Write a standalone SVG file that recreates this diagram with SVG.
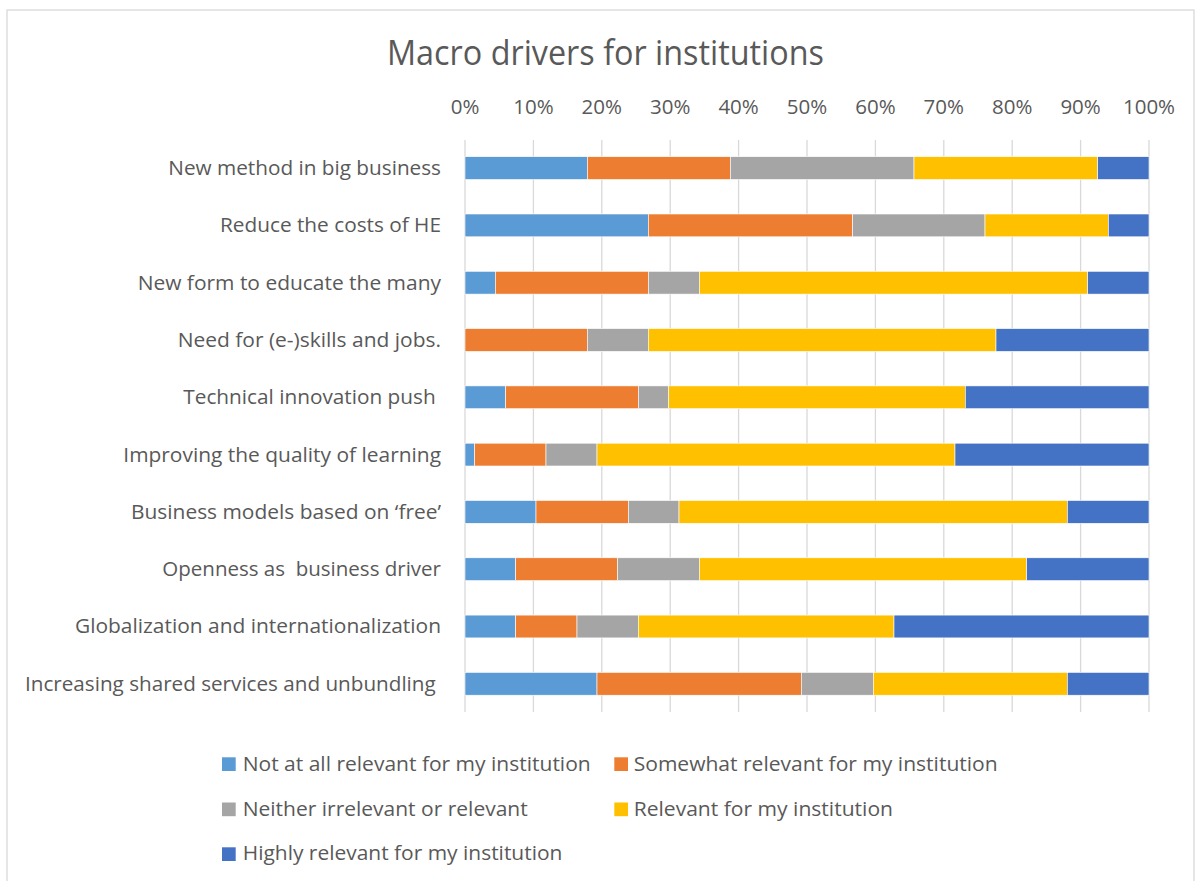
<svg xmlns="http://www.w3.org/2000/svg" width="1198" height="881" viewBox="0 0 1198 881">
<style>
text{font-family:"Open Sans","Liberation Sans",sans-serif;fill:#595959}
.lbl{font-size:20.5px;text-anchor:end}
.tick{font-size:20.5px;text-anchor:middle}
.leg{font-size:20.5px}
.grid line{stroke:#d9d9d9;stroke-width:1.3}
.c1{fill:#5b9bd5}.c2{fill:#ed7d31}.c3{fill:#a5a5a5}.c4{fill:#ffc000}.c5{fill:#4472c4}
.bars rect{stroke:#ffffff;stroke-width:0.6}
</style>
<rect x="0" y="0" width="1198" height="881" fill="#ffffff"/>
<rect x="7" y="10" width="1187" height="890" fill="#ffffff" stroke="#d9d9d9" stroke-width="1.3"/>
<text id="title" x="387" y="64.5" font-size="34" textLength="437" lengthAdjust="spacingAndGlyphs">Macro drivers for institutions</text>
<g id="axis">
<text class="tick" x="465" y="114.3">0%</text>
<text class="tick" x="533.4" y="114.3">10%</text>
<text class="tick" x="601.8" y="114.3">20%</text>
<text class="tick" x="670.2" y="114.3">30%</text>
<text class="tick" x="738.6" y="114.3">40%</text>
<text class="tick" x="807" y="114.3">50%</text>
<text class="tick" x="875.4" y="114.3">60%</text>
<text class="tick" x="943.8" y="114.3">70%</text>
<text class="tick" x="1012.2" y="114.3">80%</text>
<text class="tick" x="1080.6" y="114.3">90%</text>
<text class="tick" x="1149" y="114.3">100%</text>
</g>
<g class="grid" id="gridlines">
<line x1="465" y1="140" x2="465" y2="712"/>
<line x1="533.4" y1="140" x2="533.4" y2="712"/>
<line x1="601.8" y1="140" x2="601.8" y2="712"/>
<line x1="670.2" y1="140" x2="670.2" y2="712"/>
<line x1="738.6" y1="140" x2="738.6" y2="712"/>
<line x1="807" y1="140" x2="807" y2="712"/>
<line x1="875.4" y1="140" x2="875.4" y2="712"/>
<line x1="943.8" y1="140" x2="943.8" y2="712"/>
<line x1="1012.2" y1="140" x2="1012.2" y2="712"/>
<line x1="1080.6" y1="140" x2="1080.6" y2="712"/>
<line x1="1149" y1="140" x2="1149" y2="712"/>
</g>
<g id="labels">
<text class="lbl" x="441" y="175" textLength="272.7" lengthAdjust="spacingAndGlyphs">New method in big business</text>
<text class="lbl" x="441" y="232.3" textLength="221" lengthAdjust="spacingAndGlyphs">Reduce the costs of HE</text>
<text class="lbl" x="441" y="289.6" textLength="303.3" lengthAdjust="spacingAndGlyphs">New form to educate the many</text>
<text class="lbl" x="441" y="346.9" textLength="263.3" lengthAdjust="spacingAndGlyphs">Need for (e-)skills and jobs.</text>
<text class="lbl" x="435.7" y="404.2" textLength="252.4" lengthAdjust="spacingAndGlyphs">Technical innovation push</text>
<text class="lbl" x="441" y="461.5" textLength="317.7" lengthAdjust="spacingAndGlyphs">Improving the quality of learning</text>
<text class="lbl" x="441" y="518.8" textLength="310" lengthAdjust="spacingAndGlyphs">Business models based on ‘free’</text>
<text class="lbl" x="441" y="576.1" textLength="278.7" lengthAdjust="spacingAndGlyphs" xml:space="preserve">Openness as  business driver</text>
<text class="lbl" x="441" y="633.4" textLength="366" lengthAdjust="spacingAndGlyphs">Globalization and internationalization</text>
<text class="lbl" x="435.7" y="690.7" textLength="410.7" lengthAdjust="spacingAndGlyphs">Increasing shared services and unbundling</text>
</g>
<g class="bars" id="bars">
<g id="row1">
<rect class="c1" x="465" y="156.7" width="122.3" height="22.8"/>
<rect class="c2" x="587.3" y="156.7" width="143" height="22.8"/>
<rect class="c3" x="730.3" y="156.7" width="183.7" height="22.8"/>
<rect class="c4" x="914" y="156.7" width="183.7" height="22.8"/>
<rect class="c5" x="1097.7" y="156.7" width="51.3" height="22.8"/>
</g>
<g id="row2">
<rect class="c1" x="465" y="214" width="183.3" height="22.8"/>
<rect class="c2" x="648.3" y="214" width="204.4" height="22.8"/>
<rect class="c3" x="852.7" y="214" width="132.3" height="22.8"/>
<rect class="c4" x="985" y="214" width="123.3" height="22.8"/>
<rect class="c5" x="1108.3" y="214" width="40.7" height="22.8"/>
</g>
<g id="row3">
<rect class="c1" x="465" y="271.3" width="30.3" height="22.8"/>
<rect class="c2" x="495.3" y="271.3" width="153" height="22.8"/>
<rect class="c3" x="648.3" y="271.3" width="51" height="22.8"/>
<rect class="c4" x="699.3" y="271.3" width="388.4" height="22.8"/>
<rect class="c5" x="1087.7" y="271.3" width="61.3" height="22.8"/>
</g>
<g id="row4">
<rect class="c2" x="465" y="328.6" width="122.3" height="22.8"/>
<rect class="c3" x="587.3" y="328.6" width="61" height="22.8"/>
<rect class="c4" x="648.3" y="328.6" width="347.7" height="22.8"/>
<rect class="c5" x="996" y="328.6" width="153" height="22.8"/>
</g>
<g id="row5">
<rect class="c1" x="465" y="385.9" width="40.7" height="22.8"/>
<rect class="c2" x="505.7" y="385.9" width="132.6" height="22.8"/>
<rect class="c3" x="638.3" y="385.9" width="30.4" height="22.8"/>
<rect class="c4" x="668.7" y="385.9" width="296.6" height="22.8"/>
<rect class="c5" x="965.3" y="385.9" width="183.7" height="22.8"/>
</g>
<g id="row6">
<rect class="c1" x="465" y="443.2" width="9.7" height="22.8"/>
<rect class="c2" x="474.7" y="443.2" width="71.3" height="22.8"/>
<rect class="c3" x="546" y="443.2" width="51" height="22.8"/>
<rect class="c4" x="597" y="443.2" width="358" height="22.8"/>
<rect class="c5" x="955" y="443.2" width="194" height="22.8"/>
</g>
<g id="row7">
<rect class="c1" x="465" y="500.5" width="71" height="22.8"/>
<rect class="c2" x="536" y="500.5" width="92.3" height="22.8"/>
<rect class="c3" x="628.3" y="500.5" width="50.7" height="22.8"/>
<rect class="c4" x="679" y="500.5" width="388.3" height="22.8"/>
<rect class="c5" x="1067.3" y="500.5" width="81.7" height="22.8"/>
</g>
<g id="row8">
<rect class="c1" x="465" y="557.8" width="50.7" height="22.8"/>
<rect class="c2" x="515.7" y="557.8" width="102" height="22.8"/>
<rect class="c3" x="617.7" y="557.8" width="81.6" height="22.8"/>
<rect class="c4" x="699.3" y="557.8" width="327.4" height="22.8"/>
<rect class="c5" x="1026.7" y="557.8" width="122.3" height="22.8"/>
</g>
<g id="row9">
<rect class="c1" x="465" y="615.1" width="50.7" height="22.8"/>
<rect class="c2" x="515.7" y="615.1" width="61.3" height="22.8"/>
<rect class="c3" x="577" y="615.1" width="61.3" height="22.8"/>
<rect class="c4" x="638.3" y="615.1" width="255.7" height="22.8"/>
<rect class="c5" x="894" y="615.1" width="255" height="22.8"/>
</g>
<g id="row10">
<rect class="c1" x="465" y="672.4" width="132" height="22.8"/>
<rect class="c2" x="597" y="672.4" width="204.3" height="22.8"/>
<rect class="c3" x="801.3" y="672.4" width="72" height="22.8"/>
<rect class="c4" x="873.3" y="672.4" width="194" height="22.8"/>
<rect class="c5" x="1067.3" y="672.4" width="81.7" height="22.8"/>
</g>
</g>
<g id="legend">
<rect class="c1" x="222" y="757.3" width="13.7" height="13.7"/>
<text class="leg" x="242.7" y="770.7" textLength="348" lengthAdjust="spacingAndGlyphs">Not at all relevant for my institution</text>
<rect class="c2" x="614.3" y="757.3" width="13.7" height="13.7"/>
<text class="leg" x="633.7" y="770.7" textLength="364" lengthAdjust="spacingAndGlyphs">Somewhat relevant for my institution</text>
<rect class="c3" x="222" y="802.5" width="13.7" height="13.7"/>
<text class="leg" x="242.7" y="815.5" textLength="285" lengthAdjust="spacingAndGlyphs">Neither irrelevant or relevant</text>
<rect class="c4" x="614.3" y="802.5" width="13.7" height="13.7"/>
<text class="leg" x="633.7" y="815.5" textLength="259.3" lengthAdjust="spacingAndGlyphs">Relevant for my institution</text>
<rect class="c5" x="222" y="847.3" width="13.7" height="13.7"/>
<text class="leg" x="242.7" y="860.3" textLength="319.7" lengthAdjust="spacingAndGlyphs">Highly relevant for my institution</text>
</g>
</svg>
